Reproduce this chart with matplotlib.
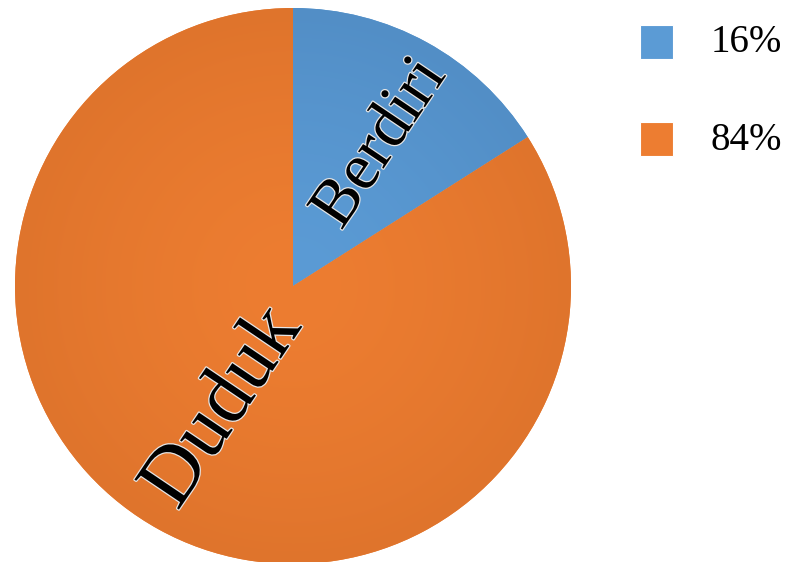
import numpy as np
import matplotlib.pyplot as plt
import matplotlib.patheffects as pe
from matplotlib.colors import to_rgb
from matplotlib.patches import Rectangle

labels = ["Berdiri", "Duduk"]
values = [16, 84]
legend_text = ["16%", "84%"]
colors = ["#5b9bd5", "#ed7d31"]
edge_colors = ["#528ec6", "#df742c"]

W, H = 786, 562
fig = plt.figure(figsize=(W / 100, H / 100), dpi=100)
ax = fig.add_axes([0, 0, 1, 1])

cx, cy, r = 293, H - 286, 278
wedges, _ = ax.pie(values, colors=colors, startangle=90, counterclock=False,
                   center=(cx, cy), radius=r, frame=True,
                   wedgeprops=dict(linewidth=0))
ax.set_xlim(0, W)
ax.set_ylim(0, H)
ax.set_aspect("equal")
ax.axis("off")

# radial shading: lighter in the middle, a bit darker near the rim
yy, xx = np.mgrid[0:H, 0:W]
dist = np.clip(np.hypot(xx - cx, (H - yy) - cy) / r, 0, 1)
for w, c0, c1 in zip(wedges, colors, edge_colors):
    a = np.array(to_rgb(c0))
    b = np.array(to_rgb(c1))
    t = dist[..., None] ** 1.5
    img = a * (1 - t) + b * t
    im = ax.imshow(img, extent=(0, W, 0, H), origin="upper", zorder=2,
                   interpolation="bilinear")
    im.set_clip_path(w)

outline = [pe.Stroke(linewidth=1.8, foreground="#e6e6e6"), pe.Normal()]
ax.text(394, H - 153, labels[0], rotation=56, rotation_mode="anchor",
        ha="center", va="baseline", fontsize=48, family="Liberation Serif",
        color="black", path_effects=outline, zorder=5)
ax.text(240, H - 419, labels[1], rotation=56, rotation_mode="anchor",
        ha="center", va="baseline", fontsize=59, family="Liberation Serif",
        color="black", path_effects=outline, zorder=5)

# legend keys on the right
for i, (txt, c) in enumerate(zip(legend_text, colors)):
    top = 25 + i * 97
    ax.add_patch(Rectangle((640, H - top - 34), 33, 34, facecolor=c,
                           edgecolor="white", linewidth=0.8, zorder=5))
    ax.text(711, H - top - 18, txt, ha="left", va="center", fontsize=28,
            family="Liberation Serif", color="black", zorder=5)

fig.savefig("out.png", dpi=100)
